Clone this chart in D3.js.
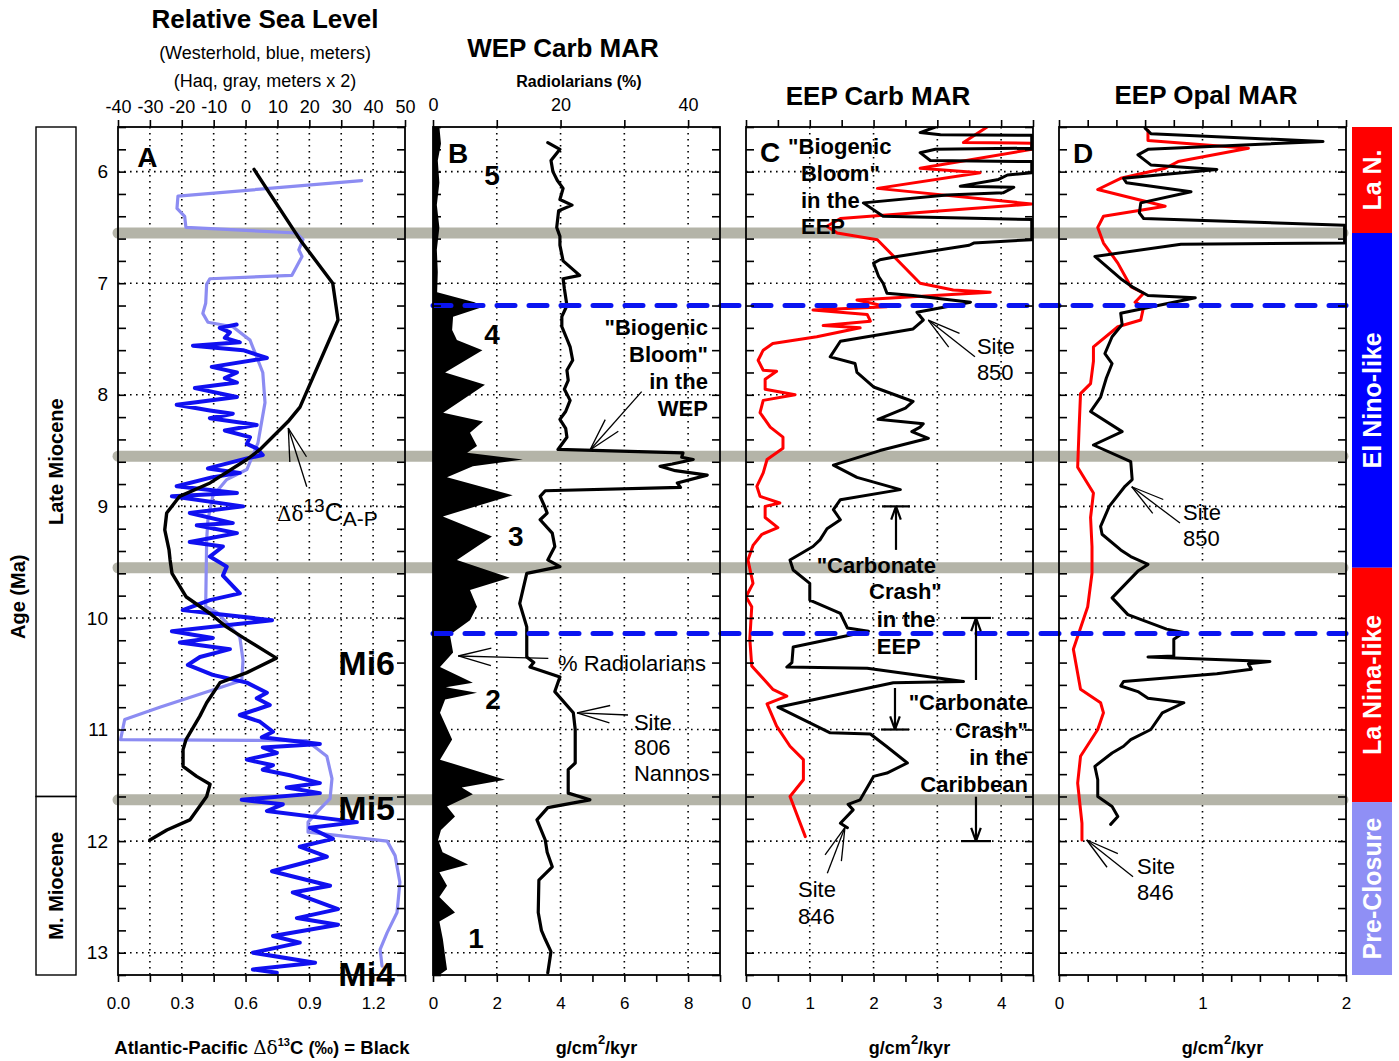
<!DOCTYPE html>
<html>
<head>
<meta charset="utf-8">
<script src="https://cdn.jsdelivr.net/npm/d3@7"></script>
<style>
  body { margin: 0; background: #fff; }
  svg { display: block; font-family: Arial, "Liberation Sans", sans-serif; }
</style>
</head>
<body>
<svg id="chart" width="1399" height="1061"></svg>
<script>
// ---------------------------------------------------------------------------
// Data: [age (Ma), value]
// ---------------------------------------------------------------------------

// Panel A – Atlantic-Pacific delta13C difference (per mil)
const deltaC13AP = [
  [5.98,0.64],[6.61,0.856],[7.0,1.01],[7.33,1.035],[8.11,0.856],[8.24,0.80],
  [8.49,0.668],[8.58,0.606],[8.79,0.433],[8.91,0.29],[9.06,0.229],[9.21,0.22],
  [9.39,0.24],[9.48,0.245],[9.6,0.254],[9.81,0.32],[9.96,0.433],[10.08,0.51],
  [10.19,0.60],[10.36,0.745],[10.49,0.606],[10.58,0.48],[10.76,0.417],[10.88,0.385],
  [11.09,0.32],[11.18,0.306],[11.33,0.306],[11.42,0.37],[11.49,0.433],[11.6,0.417],
  [11.81,0.338],[11.9,0.23],[11.99,0.15]
];

// Panel A – Westerhold relative sea level (m)
const seaLevelWesterhold = [
  [7.37,-2.8],[7.40,-8.1],[7.44,-4.9],[7.49,-6.5],[7.53,-1.8],[7.56,-16.5],[7.60,-0.8],
  [7.67,6.7],[7.75,-10.6],[7.80,-2.7],[7.85,-6.5],[7.89,-2.7],[7.94,-15.9],[8.02,-2.7],
  [8.09,-21.6],[8.14,-11.2],[8.17,-4.0],[8.21,-11.2],[8.27,3.5],[8.32,-6.5],[8.38,1.4],
  [8.44,0.4],[8.48,3.5],[8.54,5.4],[8.57,0.4],[8.66,-11.8],[8.70,-1.8],[8.74,-10.6],
  [8.82,-21.6],[8.88,-2.7],[8.91,-23.1],[9.00,-0.8],[9.06,-17.5],[9.15,-4.0],[9.17,-15.3],
  [9.24,-2.7],[9.32,-17.5],[9.36,-7.1],[9.45,-11.2],[9.54,-5.9],[9.62,-7.1],[9.78,-1.8],
  [9.84,-11.2],[9.93,-19.7],[10.02,8.3],[10.12,-23.1],[10.18,-10.3],[10.22,-20.6],
  [10.28,-4.9],[10.35,-14.3],[10.42,-18.1],[10.51,-10.3],[10.58,0.4],[10.67,6.7],
  [10.72,3.5],[10.78,7.6],[10.87,-1.8],[10.93,4.5],[11.02,8.6],[11.07,5.1],[11.13,23.3],
  [11.16,5.4],[11.21,9.8],[11.27,0.4],[11.32,8.6],[11.36,5.4],[11.41,13.9],[11.48,23.3],
  [11.52,12.9],[11.57,23.3],[11.63,-1.2],[11.67,11.7],[11.73,6.7],[11.83,34.9],
  [11.88,20.2],[11.98,27.4],[12.05,17.0],[12.14,25.5],[12.27,8.3],[12.40,26.5],
  [12.46,14.8],[12.61,29.0],[12.69,16.1],[12.75,29.0],[12.85,8.6],[12.91,17.0],
  [13.00,2.3],[13.09,21.8],[13.15,2.3],[13.18,9.8]
];

// Panel A – Haq relative sea level (plotted on the same metre axis)
const seaLevelHaq = [
  [6.08,36.4],[6.22,-21.2],[6.33,-21.5],[6.40,-19.1],[6.50,-18.7],[6.55,16.0],[6.61,18.0],
  [6.70,16.7],[6.76,17.7],[6.93,14.5],[6.96,-11.2],[7.01,-12.2],[7.18,-12.5],[7.27,-13.4],
  [7.35,-11.8],[7.39,-4.0],[7.51,1.4],[7.80,5.4],[8.07,6.1],[8.43,3.9],[8.67,0.4],
  [8.76,-5.9],[8.91,-10.3],[9.12,-11.8],[9.30,-12.2],[9.90,-12.5],[9.95,-9.0],
  [10.17,-1.8],[10.38,-0.8],[10.56,-1.2],[10.80,-26.9],[10.91,-37.9],[11.09,-39.2],
  [11.10,19.2],[11.24,25.5],[11.44,27.1],[11.62,26.5],[11.74,22.4],[11.83,19.6],
  [11.92,19.6],[12.00,44.4],[12.13,46.9],[12.37,48.4],[12.64,47.5],[12.82,44.4],
  [12.97,42.2],[13.12,42.8]
];

// Panel B – Site 806 nannofossil carbonate MAR (g/cm2/kyr)
const wepCarbMAR = [
  [5.6,0.2],[5.75,0.25],[5.9,0.15],[6.1,0.2],[6.3,0.12],[6.5,0.2],[6.7,0.12],[6.9,0.15],
  [7.08,0.13],[7.17,1.3],[7.21,1.58],[7.3,0.63],[7.42,0.6],[7.51,0.75],[7.6,1.55],
  [7.8,0.38],[7.91,1.63],[8.16,0.32],[8.24,1.57],[8.34,1.16],[8.46,1.38],[8.52,1.07],
  [8.58,2.82],[8.64,1.25],[8.74,0.44],[8.9,2.5],[9.09,0.31],[9.27,1.85],[9.48,0.75],
  [9.64,2.41],[9.75,1.16],[9.9,1.38],[10.02,1.16],[10.15,0.53],[10.31,0.63],[10.44,0.22],
  [10.58,1.25],[10.62,0.4],[10.67,1.38],[10.73,0.38],[10.85,0.22],[11.09,0.6],[11.27,0.22],
  [11.45,2.26],[11.52,0.9],[11.58,1.25],[11.69,0.44],[11.78,0.69],[11.9,0.25],[11.99,0.16],
  [12.1,0.3],[12.21,1.1],[12.28,0.2],[12.4,0.44],[12.5,0.2],[12.64,0.69],[12.72,0.2],
  [12.88,0.31],[13.03,0.38],[13.15,0.44],[13.2,0.2]
];

// Panel B – radiolarians (%)
const radiolarians = [
  [5.74,18.0],[5.8,19.9],[5.9,18.5],[6.0,18.8],[6.08,19.5],[6.15,20.4],[6.25,19.9],
  [6.3,21.8],[6.35,19.7],[6.5,19.4],[6.58,19.9],[6.66,19.9],[6.8,20.4],[6.93,23.0],
  [6.96,20.4],[7.05,20.6],[7.2,21.0],[7.3,20.2],[7.39,20.2],[7.5,21.0],[7.57,21.5],
  [7.69,21.9],[7.78,21.0],[7.87,21.2],[7.95,20.6],[8.05,21.5],[8.15,20.8],[8.22,19.9],
  [8.3,20.8],[8.38,21.0],[8.49,19.6],[8.52,39.2],[8.56,39.0],[8.58,40.8],[8.62,37.5],
  [8.64,35.6],[8.68,38.0],[8.72,43.0],[8.79,38.3],[8.83,38.8],[8.86,17.6],[8.91,16.8],
  [9.0,17.5],[9.06,17.9],[9.12,16.8],[9.24,18.7],[9.36,19.1],[9.48,18.0],[9.54,19.9],
  [9.6,14.7],[9.87,13.6],[10.08,14.7],[10.35,14.7],[10.4,15.8],[10.44,15.2],[10.53,19.9],
  [10.66,19.1],[10.85,22.0],[11.0,22.3],[11.3,22.3],[11.36,21.2],[11.57,21.2],[11.63,24.6],
  [11.7,18.0],[11.81,16.3],[11.99,17.6],[12.1,17.9],[12.23,18.7],[12.35,16.6],[12.64,16.5],
  [12.8,17.0],[12.88,17.6],[12.99,18.5],[13.18,18.0]
];

// Panel C – EEP carbonate MAR (g/cm2/kyr); 4.48 marks values pinned at the axis edge
const eepCarbSite850 = [
  [5.6,2.97],[5.65,2.73],[5.67,3.05],[5.675,4.48],[5.79,4.48],[5.8,2.97],[5.83,2.73],[5.9,2.89],
  [5.91,4.48],[6.01,4.48],[6.03,4.1],[6.07,3.96],[6.13,3.36],[6.14,4.2],[6.19,4.03],[6.21,3.15],
  [6.28,1.84],[6.4,2.15],[6.43,4.48],[6.61,4.48],[6.64,3.57],[6.66,3.5],[6.76,2.37],[6.79,2.1],
  [6.82,2.0],[6.94,2.08],[7.0,2.15],[7.09,2.21],[7.11,2.62],[7.17,3.52],[7.26,2.68],[7.33,2.78],
  [7.41,2.62],[7.52,1.48],[7.66,1.32],[7.72,1.71],[7.8,1.74],[7.93,2.0],[8.06,2.62],[8.12,2.5],
  [8.22,2.07],[8.26,2.78],[8.29,2.73],[8.33,2.6],[8.39,2.86],[8.5,2.1],[8.63,1.37],[8.74,1.74],
  [8.85,2.42],[8.94,1.48],[9.03,1.37],[9.12,1.48],[9.2,1.27],[9.3,1.16],[9.36,1.05],[9.48,0.69],
  [9.57,0.74],[9.69,1.0],[9.84,1.0],[9.96,1.48],[10.09,1.59],[10.12,1.92],[10.26,0.74],
  [10.4,0.72],[10.44,0.64],[10.45,1.9],[10.57,3.41],[10.58,2.31],[10.8,0.5],[11.03,1.32],
  [11.04,1.95],[11.15,2.2],[11.3,2.53],[11.39,2.21],[11.42,2.0],[11.63,1.79],[11.67,1.6],
  [11.72,1.68],[11.84,1.48],[11.88,1.59]
];
const eepCarbSite846 = [
  [5.6,3.78],[5.74,3.41],[5.745,4.48],[5.8,4.48],[5.97,2.73],[6.01,3.67],[6.15,2.06],[6.29,4.48],
  [6.42,1.48],[6.49,1.27],[6.55,1.43],[6.61,2.06],[7.0,2.73],[7.06,3.25],[7.08,3.83],[7.15,1.74],
  [7.21,2.21],[7.24,1.05],[7.28,1.9],[7.34,1.95],[7.38,1.21],[7.4,1.79],[7.48,1.11],[7.54,0.42],
  [7.6,0.27],[7.69,0.19],[7.78,0.27],[7.79,0.48],[7.86,0.3],[7.95,0.3],[8.0,0.77],[8.05,0.27],
  [8.16,0.22],[8.29,0.38],[8.38,0.58],[8.48,0.58],[8.58,0.33],[8.7,0.27],[8.82,0.17],[8.91,0.22],
  [8.97,0.53],[9.0,0.3],[9.1,0.3],[9.19,0.5],[9.25,0.25],[9.35,0.11],[9.48,0.03],[9.69,0.11],
  [9.81,0.0],[9.9,0.09],[10.19,0.06],[10.43,0.09],[10.64,0.42],[10.7,0.64],[10.77,0.33],
  [10.97,0.48],[11.15,0.69],[11.27,0.9],[11.45,0.9],[11.6,0.69],[11.96,0.93]
];

// Panel D – EEP opal MAR (g/cm2/kyr); 1.99 marks values pinned at the axis edge
const eepOpalSite850 = [
  [5.61,0.6],[5.66,0.64],[5.73,1.84],[5.8,0.62],[5.85,0.55],[5.94,0.64],[5.98,1.1],[6.06,0.45],
  [6.1,0.47],[6.18,0.92],[6.28,0.57],[6.37,0.56],[6.42,0.59],[6.48,1.99],[6.64,1.99],[6.65,0.85],
  [6.76,0.25],[6.97,0.44],[7.04,0.52],[7.11,0.62],[7.13,0.95],[7.27,0.43],[7.37,0.44],[7.48,0.37],
  [7.63,0.32],[7.72,0.37],[7.85,0.33],[8.02,0.29],[8.15,0.22],[8.33,0.44],[8.45,0.24],[8.6,0.5],
  [8.76,0.51],[8.82,0.46],[9.0,0.35],[9.18,0.29],[9.25,0.3],[9.39,0.43],[9.45,0.5],[9.52,0.62],
  [9.58,0.55],[9.82,0.37],[9.97,0.48],[10.1,0.75],[10.13,0.87],[10.19,0.8],[10.34,0.8],
  [10.35,0.62],[10.39,1.47],[10.41,1.32],[10.46,1.34],[10.5,1.1],[10.57,0.45],[10.61,0.43],
  [10.66,0.55],[10.72,0.62],[10.76,0.87],[10.85,0.72],[11.0,0.64],[11.09,0.5],[11.15,0.45],
  [11.21,0.37],[11.33,0.25],[11.45,0.27],[11.6,0.27],[11.69,0.37],[11.78,0.41],[11.85,0.36]
];
const eepOpalSite846 = [
  [5.63,0.62],[5.72,0.62],[5.79,1.32],[5.91,0.83],[5.97,0.74],[6.06,0.43],[6.16,0.27],
  [6.25,0.55],[6.31,0.74],[6.4,0.31],[6.5,0.27],[6.64,0.31],[6.82,0.41],[7.03,0.5],[7.09,0.59],
  [7.17,0.53],[7.21,0.59],[7.33,0.57],[7.39,0.41],[7.57,0.24],[7.7,0.24],[7.9,0.22],[7.99,0.15],
  [8.3,0.14],[8.65,0.13],[8.88,0.24],[9.1,0.22],[9.36,0.23],[9.6,0.23],[9.9,0.2],[10.28,0.1],
  [10.64,0.15],[10.76,0.29],[10.85,0.31],[11.0,0.27],[11.24,0.15],[11.48,0.13],[11.84,0.16],
  [11.99,0.16]
];

// Horizon ages (Ma)
const grayHorizons = [6.55, 8.55, 9.55, 11.63];
const dashedHorizons = [7.2, 10.14];

// Climate-state bands on the right
const climateStates = ["La N.", "El Nino-like", "La Nina-like", "Pre-Closure"];
const climateFrom = [5.6, 6.55, 9.55, 11.65];
const climateTo = [6.55, 9.55, 11.65, 13.2];
const climateColors = ["#ff0000", "#0000ff", "#ff0000", "#8f8ff5"];

// Epochs on the left
const epochNames = ["Late Miocene", "M. Miocene"];
const epochFrom = [5.6, 11.6];
const epochTo = [11.6, 13.2];

// Tick labels
const ageTickLabels = [6, 7, 8, 9, 10, 11, 12, 13];
const seaLevelTickLabels = [-40, -30, -20, -10, 0, 10, 20, 30, 40, 50];
const d13cTickLabels = ["0.0", "0.3", "0.6", "0.9", "1.2"];
const wepTickLabels = [0, 2, 4, 6, 8];
const radTickLabels = [0, 20, 40];
const eepCarbTickLabels = [0, 1, 2, 3, 4];
const eepOpalTickLabels = [0, 1, 2];

// ---------------------------------------------------------------------------
// Layout and scales
// ---------------------------------------------------------------------------
const svg = d3.select("#chart");
const TOP = 127, BOTTOM = 975, PW = 287;
const y = d3.scaleLinear().domain([5.6, 13.2]).range([TOP, BOTTOM]);

const xA  = d3.scaleLinear().domain([0, 1.35]).range([118, 118 + PW]);
const xSL = d3.scaleLinear().domain([-40, 50]).range([118, 118 + PW]);
const xB  = d3.scaleLinear().domain([0, 9]).range([433, 433 + PW]);
const xR  = d3.scaleLinear().domain([0, 45]).range([433, 433 + PW]);
const xC  = d3.scaleLinear().domain([0, 4.5]).range([746, 746 + PW]);
const xD  = d3.scaleLinear().domain([0, 2]).range([1059, 1059 + PW]);

const panels = [
  { id: "A", x: xA, vgrid: d3.range(0.15, 1.3, 0.15) },
  { id: "B", x: xB, vgrid: [2, 4, 6, 8] },
  { id: "C", x: xC, vgrid: [1, 2, 3, 4] },
  { id: "D", x: xD, vgrid: [1] }
];

const defs = svg.append("defs");
panels.forEach(p => {
  const [x0, x1] = p.x.range();
  defs.append("clipPath").attr("id", "clip" + p.id)
    .append("rect").attr("x", x0).attr("y", TOP).attr("width", x1 - x0).attr("height", BOTTOM - TOP);
});

const near = (a, b) => Math.abs(a - b) < 1e-6;
const steps = (a, b, s) => d3.range(0, Math.round((b - a) / s) + 1).map(i => +(a + i * s).toFixed(4));

// ---------------------------------------------------------------------------
// Dotted grid
// ---------------------------------------------------------------------------
const gridG = svg.append("g").attr("stroke", "#000").attr("stroke-width", 1.6)
  .attr("stroke-dasharray", "1.6 4.4").attr("fill", "none");
panels.forEach(p => {
  const [x0, x1] = p.x.range();
  ageTickLabels.forEach(a => {
    gridG.append("line").attr("x1", x0).attr("x2", x1).attr("y1", y(a)).attr("y2", y(a));
  });
  p.vgrid.forEach(v => {
    gridG.append("line").attr("x1", p.x(v)).attr("x2", p.x(v)).attr("y1", TOP).attr("y2", BOTTOM);
  });
});

// ---------------------------------------------------------------------------
// Gray horizons (under the data)
// ---------------------------------------------------------------------------
svg.append("g").selectAll("line").data(grayHorizons).join("line")
  .attr("x1", xA.range()[0]).attr("x2", xD.range()[1] - 3)
  .attr("y1", d => y(d)).attr("y2", d => y(d))
  .attr("stroke", "#b4b4a8").attr("stroke-width", 11).attr("stroke-linecap", "round");

// ---------------------------------------------------------------------------
// Data
// ---------------------------------------------------------------------------
function drawLine(panelId, xs, data, color, width) {
  svg.append("path").datum(data)
    .attr("clip-path", `url(#clip${panelId})`)
    .attr("fill", "none").attr("stroke", color).attr("stroke-width", width)
    .attr("stroke-linejoin", "round").attr("stroke-linecap", "round")
    .attr("d", d3.line().x(d => xs(d[1])).y(d => y(d[0])));
}

// Panel A
drawLine("A", xSL, seaLevelHaq, "#8c8cf2", 3.2);
drawLine("A", xSL, seaLevelWesterhold, "#1010f0", 4);
drawLine("A", xA, deltaC13AP, "#000", 3.4);

// Panel B
svg.append("path").datum(wepCarbMAR)
  .attr("clip-path", "url(#clipB)").attr("fill", "#000")
  .attr("d", d3.area().y(d => y(d[0])).x0(xB(0)).x1(d => xB(d[1])));
drawLine("B", xR, radiolarians, "#000", 3.2);

// Panel C
drawLine("C", xC, eepCarbSite846, "#ff0000", 3);
drawLine("C", xC, eepCarbSite850, "#000", 3);

// Panel D
drawLine("D", xD, eepOpalSite846, "#ff0000", 3);
drawLine("D", xD, eepOpalSite850, "#000", 3);

// Blue dashed horizons (over the data)
svg.append("g").selectAll("line").data(dashedHorizons).join("line")
  .attr("x1", xB.range()[0]).attr("x2", xD.range()[1])
  .attr("y1", d => y(d)).attr("y2", d => y(d))
  .attr("stroke", "#0a14f0").attr("stroke-width", 5).attr("stroke-linecap", "round")
  .attr("stroke-dasharray", "18 14");

// ---------------------------------------------------------------------------
// Frames and axes
// ---------------------------------------------------------------------------
function styleAxis(g) {
  g.select(".domain").remove();
  g.selectAll(".tick line").attr("stroke", "#000").attr("stroke-width", 1.6);
  g.selectAll(".tick text").attr("fill", "#000");
}
const minorAges = steps(5.6, 13.2, 0.2);

panels.forEach(p => {
  const [x0, x1] = p.x.range();
  svg.append("g").attr("transform", `translate(${x0},0)`)
    .call(d3.axisRight(y).tickValues(minorAges).tickSize(8).tickFormat(""))
    .call(styleAxis);
  svg.append("g").attr("transform", `translate(${x1},0)`)
    .call(d3.axisLeft(y).tickValues(minorAges).tickSize(8).tickFormat(""))
    .call(styleAxis);
  svg.append("rect").attr("x", x0).attr("y", TOP).attr("width", x1 - x0).attr("height", BOTTOM - TOP)
    .attr("fill", "none").attr("stroke", "#000").attr("stroke-width", 1.8);
});

// Age labels on the left of panel A
svg.append("g").attr("transform", `translate(${xA.range()[0]},0)`)
  .call(d3.axisLeft(y).tickValues(ageTickLabels).tickSize(0).tickPadding(10).tickFormat(d3.format("d")))
  .call(styleAxis)
  .selectAll("text").attr("font-size", 19).attr("font-family", "Arial, 'Liberation Sans', sans-serif");

function hAxis(scale, orient, values, labelFn, fontSize, pad) {
  const ax = (orient === "top" ? d3.axisTop(scale) : d3.axisBottom(scale))
    .tickValues(values).tickSize(7).tickPadding(pad).tickFormat(labelFn);
  const g = svg.append("g").attr("transform", `translate(0,${orient === "top" ? TOP : BOTTOM})`)
    .call(ax).call(styleAxis);
  g.selectAll("text").attr("font-size", fontSize).attr("font-family", "Arial, 'Liberation Sans', sans-serif");
  return g;
}

// Panel A axes
hAxis(xSL, "top", seaLevelTickLabels, d => String(d), 18, 7);
hAxis(xA, "bottom", steps(0, 1.35, 0.15),
  d => { const i = d3.range(d13cTickLabels.length).find(k => near(+d13cTickLabels[k], d)); return i === undefined ? "" : d13cTickLabels[i]; },
  17, 15);
// Panel B axes
hAxis(xR, "top", steps(0, 40, 10), d => radTickLabels.includes(d) ? String(d) : "", 18, 9);
hAxis(xB, "bottom", steps(0, 9, 1), d => wepTickLabels.includes(d) ? String(d) : "", 17, 15);
// Panel C axes
hAxis(xC, "top", steps(0, 4.5, 0.5), () => "", 17, 7);
hAxis(xC, "bottom", steps(0, 4.5, 0.5), d => eepCarbTickLabels.some(v => near(v, d)) ? String(d) : "", 17, 15);
// Panel D axes
hAxis(xD, "top", steps(0, 2, 0.2), () => "", 17, 7);
hAxis(xD, "bottom", steps(0, 2, 0.2), d => eepOpalTickLabels.some(v => near(v, d)) ? String(Math.round(d)) : "", 17, 15);

// ---------------------------------------------------------------------------
// Right-hand climate bands and left-hand epochs
// ---------------------------------------------------------------------------
const bandX = 1352, bandW = 40;
climateStates.forEach((name, i) => {
  svg.append("rect").attr("x", bandX).attr("y", y(climateFrom[i]))
    .attr("width", bandW).attr("height", y(climateTo[i]) - y(climateFrom[i]))
    .attr("fill", climateColors[i]);
  const cy = (y(climateFrom[i]) + y(climateTo[i])) / 2;
  svg.append("text").attr("transform", `translate(${bandX + bandW / 2 + 9},${cy}) rotate(-90)`)
    .attr("text-anchor", "middle").attr("fill", "#fff").attr("font-weight", "bold")
    .attr("font-size", 25).text(name);
});

const epochX = 36, epochW = 40;
epochNames.forEach((name, i) => {
  svg.append("rect").attr("x", epochX).attr("y", y(epochFrom[i]))
    .attr("width", epochW).attr("height", y(epochTo[i]) - y(epochFrom[i]))
    .attr("fill", "none").attr("stroke", "#000").attr("stroke-width", 1.4);
  const cy = (y(epochFrom[i]) + y(epochTo[i])) / 2;
  svg.append("text").attr("transform", `translate(${epochX + epochW / 2 + 7},${cy}) rotate(-90)`)
    .attr("text-anchor", "middle").attr("font-weight", "bold").attr("font-size", 20).text(name);
});
svg.append("text").attr("transform", `translate(25,${y(9.81)}) rotate(-90)`)
  .attr("text-anchor", "middle").attr("font-weight", "bold").attr("font-size", 20).text("Age (Ma)");

// ---------------------------------------------------------------------------
// Titles and axis captions
// ---------------------------------------------------------------------------
function text(x, yy, str, size, opts = {}) {
  return svg.append("text").attr("x", x).attr("y", yy)
    .attr("font-size", size)
    .attr("font-weight", opts.bold ? "bold" : "normal")
    .attr("text-anchor", opts.anchor || "start")
    .attr("fill", opts.fill || "#000")
    .text(str);
}
text(265, 28, "Relative Sea Level", 26, { bold: true, anchor: "middle" });
text(265, 59, "(Westerhold, blue, meters)", 18, { anchor: "middle" });
text(265, 87, "(Haq, gray, meters x 2)", 18, { anchor: "middle" });
text(563, 57, "WEP Carb MAR", 26, { bold: true, anchor: "middle" });
text(579, 87, "Radiolarians (%)", 16, { bold: true, anchor: "middle" });
text(878, 105, "EEP Carb MAR", 26, { bold: true, anchor: "middle" });
text(1206, 104, "EEP Opal MAR", 26, { bold: true, anchor: "middle" });

const capA = text(262, 1054, "", 18.5, { bold: true, anchor: "middle" });
capA.append("tspan").text("Atlantic-Pacific ");
capA.append("tspan").attr("font-family", "'DejaVu Serif', 'Liberation Serif', serif").attr("font-weight", "normal").text("Δδ");
capA.append("tspan").attr("font-size", 11).attr("dy", -8).text("13");
capA.append("tspan").attr("dy", 8).text("C (‰) = Black");

[xB, xC, xD].forEach(sc => {
  const cx = (sc.range()[0] + sc.range()[1]) / 2 + 20;
  const t = text(cx, 1054, "", 18, { bold: true, anchor: "middle" });
  t.append("tspan").text("g/cm");
  t.append("tspan").attr("font-size", 13).attr("dy", -10).text("2");
  t.append("tspan").attr("dy", 10).text("/kyr");
});

// ---------------------------------------------------------------------------
// Annotations (positioned in each panel's data units)
// ---------------------------------------------------------------------------
const annG = svg.append("g").attr("stroke", "#000").attr("fill", "none");
function arrow(x1, y1, x2, y2, len = 34, ang = 0.26, w = 1.3) {
  annG.append("line").attr("x1", x1).attr("y1", y1).attr("x2", x2).attr("y2", y2).attr("stroke-width", w);
  const a = Math.atan2(y1 - y2, x1 - x2);
  [-1, 1].forEach(s => {
    annG.append("line").attr("x1", x2).attr("y1", y2)
      .attr("x2", x2 + len * Math.cos(a + s * ang)).attr("y2", y2 + len * Math.sin(a + s * ang))
      .attr("stroke-width", w);
  });
}
function rangeMark(x, fromAge, toAge, half) {
  // bar at toAge, arrow pointing at the bar
  annG.append("line").attr("x1", x - half).attr("x2", x + half).attr("y1", y(toAge)).attr("y2", y(toAge))
    .attr("stroke-width", 2.2);
  arrow(x, y(fromAge), x, y(toAge), 14, 0.35, 2.2);
}
function label(xs, v, age, str, size, bold, anchor = "start") {
  return text(xs(v), y(age), str, size, { bold, anchor });
}
function lines(xs, v, ages, strs, size, bold, anchor = "start") {
  strs.forEach((s, i) => label(xs, v, ages[i], s, size, bold, anchor));
}

// Panel A
label(xA, 0.09, 5.96, "A", 28, true);
const dl = label(xA, 0.748, 9.13, "", 23, false);
dl.append("tspan").attr("font-family", "'DejaVu Serif', 'Liberation Serif', serif").attr("font-size", 20).text("Δδ");
dl.append("tspan").attr("font-size", 19).attr("dy", -9).text("13");
dl.append("tspan").attr("font-size", 25).attr("dy", 9).text("C");
dl.append("tspan").attr("font-size", 21).attr("dy", 5).text("A-P");
arrow(xA(0.888), y(8.824), xA(0.801), y(8.298));
label(xA, 1.303, 10.51, "Mi6", 34, true, "end");
label(xA, 1.303, 11.81, "Mi5", 34, true, "end");
label(xA, 1.303, 13.30, "Mi4", 34, true, "end");

// Panel B
label(xB, 0.47, 5.92, "B", 28, true);
label(xB, 1.85, 6.12, "5", 28, true, "middle");
label(xB, 1.85, 7.545, "4", 28, true, "middle");
label(xB, 2.6, 9.355, "3", 28, true, "middle");
label(xB, 1.88, 10.816, "2", 28, true, "middle");
label(xB, 1.35, 12.958, "1", 28, true, "middle");
lines(xB, 8.62, [7.464, 7.706, 7.948, 8.19], ["\"Biogenic", "Bloom\"", "in the", "WEP"], 22, true, "end");
arrow(xB(6.544), y(7.972), xB(4.923), y(8.495));
label(xB, 3.92, 10.475, "% Radiolarians", 22, false);
arrow(xB(3.616), y(10.362), xB(0.793), y(10.341));
lines(xB, 6.3, [11.0, 11.228, 11.461], ["Site", "806", "Nannos"], 22, false);
arrow(xB(6.115), y(10.87), xB(4.515), y(10.85));

// Panel C
label(xC, 0.22, 5.914, "C", 28, true);
label(xC, 0.66, 5.842, "\"Biogenic", 22, true);
lines(xC, 0.862, [6.084, 6.326, 6.559], ["Bloom\"", "in the", "EEP"], 22, true);
lines(xC, 3.62, [7.634, 7.867], ["Site", "850"], 22, false);
arrow(xC(3.59), y(7.659), xC(2.858), y(7.33));
rangeMark(xC(2.352), 9.39, 9.0, 14);
label(xC, 1.108, 9.597, "\"Carbonate", 22, true);
label(xC, 1.929, 9.83, "Crash\"", 22, true);
lines(xC, 2.05, [10.081, 10.323], ["in the", "EEP"], 22, true);
rangeMark(xC(3.606), 10.556, 10.0, 15);
rangeMark(xC(3.606), 11.602, 12.0, 15);
rangeMark(xC(2.336), 10.628, 11.0, 14);
lines(xC, 4.42, [10.825, 11.076, 11.318, 11.56], ["\"Carbonate", "Crash\"", "in the", "Caribbean"], 22, true, "end");
lines(xC, 0.815, [12.501, 12.743], ["Site", "846"], 22, false);
arrow(xC(1.275), y(12.289), xC(1.552), y(11.876));

// Panel D
label(xD, 0.098, 5.923, "D", 28, true);
lines(xD, 0.864, [9.122, 9.355], ["Site", "850"], 22, false);
arrow(xD(0.843), y(9.149), xD(0.507), y(8.824));
lines(xD, 0.544, [12.295, 12.528], ["Site", "846"], 22, false);
arrow(xD(0.516), y(12.319), xD(0.193), y(11.99));
</script>
</body>
</html>
